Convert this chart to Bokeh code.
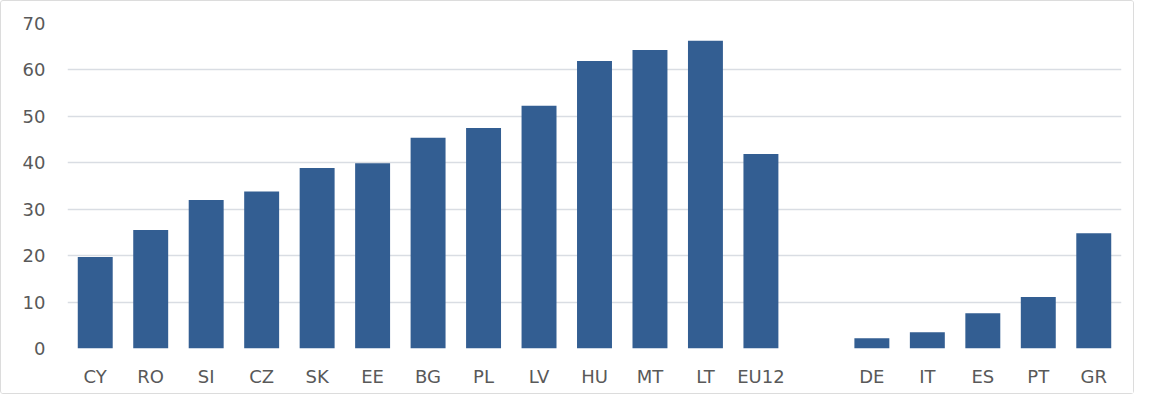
from bokeh.plotting import figure
from bokeh.models import FactorRange, Range1d, ColumnDataSource, FixedTicker
from bokeh.embed import file_html
from bokeh.resources import INLINE

east = ["CY", "RO", "SI", "CZ", "SK", "EE", "BG", "PL", "LV", "HU", "MT", "LT", "EU12"]
east_values = [19.7, 25.5, 32.0, 33.8, 38.9, 39.9, 45.4, 47.5, 52.3, 61.9, 64.3, 66.3, 41.9]
south = ["DE", "IT", "ES", "PT", "GR"]
south_values = [2.2, 3.5, 7.6, 11.1, 24.8]
y_ticks = [0, 10, 20, 30, 40, 50, 60, 70]

factors = east + [" "] + south
src = ColumnDataSource(dict(cat=east + south, val=east_values + south_values))

p = figure(width=1134, height=394, x_range=FactorRange(factors=factors, range_padding=0),
           y_range=Range1d(0, 70), output_backend="svg", toolbar_location=None,
           min_border_left=66, min_border_right=14, min_border_top=22, min_border_bottom=47)
p.vbar(x="cat", top="val", width=0.63, source=src, fill_color="#335e92", line_color=None)

p.outline_line_color = None
p.background_fill_color = "white"
p.border_fill_color = "white"
p.styles = {"border": "1px solid #dcdcdc", "border-radius": "3px"}

p.xgrid.grid_line_color = None
p.ygrid.grid_line_color = "#d9dde3"
p.ygrid.grid_line_width = 1.5
p.yaxis.ticker = FixedTicker(ticks=y_ticks)

for ax in (p.xaxis[0], p.yaxis[0]):
    ax.axis_line_color = None
    ax.major_tick_line_color = None
    ax.minor_tick_line_color = None
    ax.major_tick_out = 0
    ax.major_tick_in = 0
    ax.major_label_text_font = "DejaVu Sans"
    ax.major_label_text_font_size = "18px"
    ax.major_label_text_color = "#595959"

p.xaxis.major_label_standoff = 17
p.yaxis.major_label_standoff = 22

open("out.html", "w").write(file_html(p, INLINE))
